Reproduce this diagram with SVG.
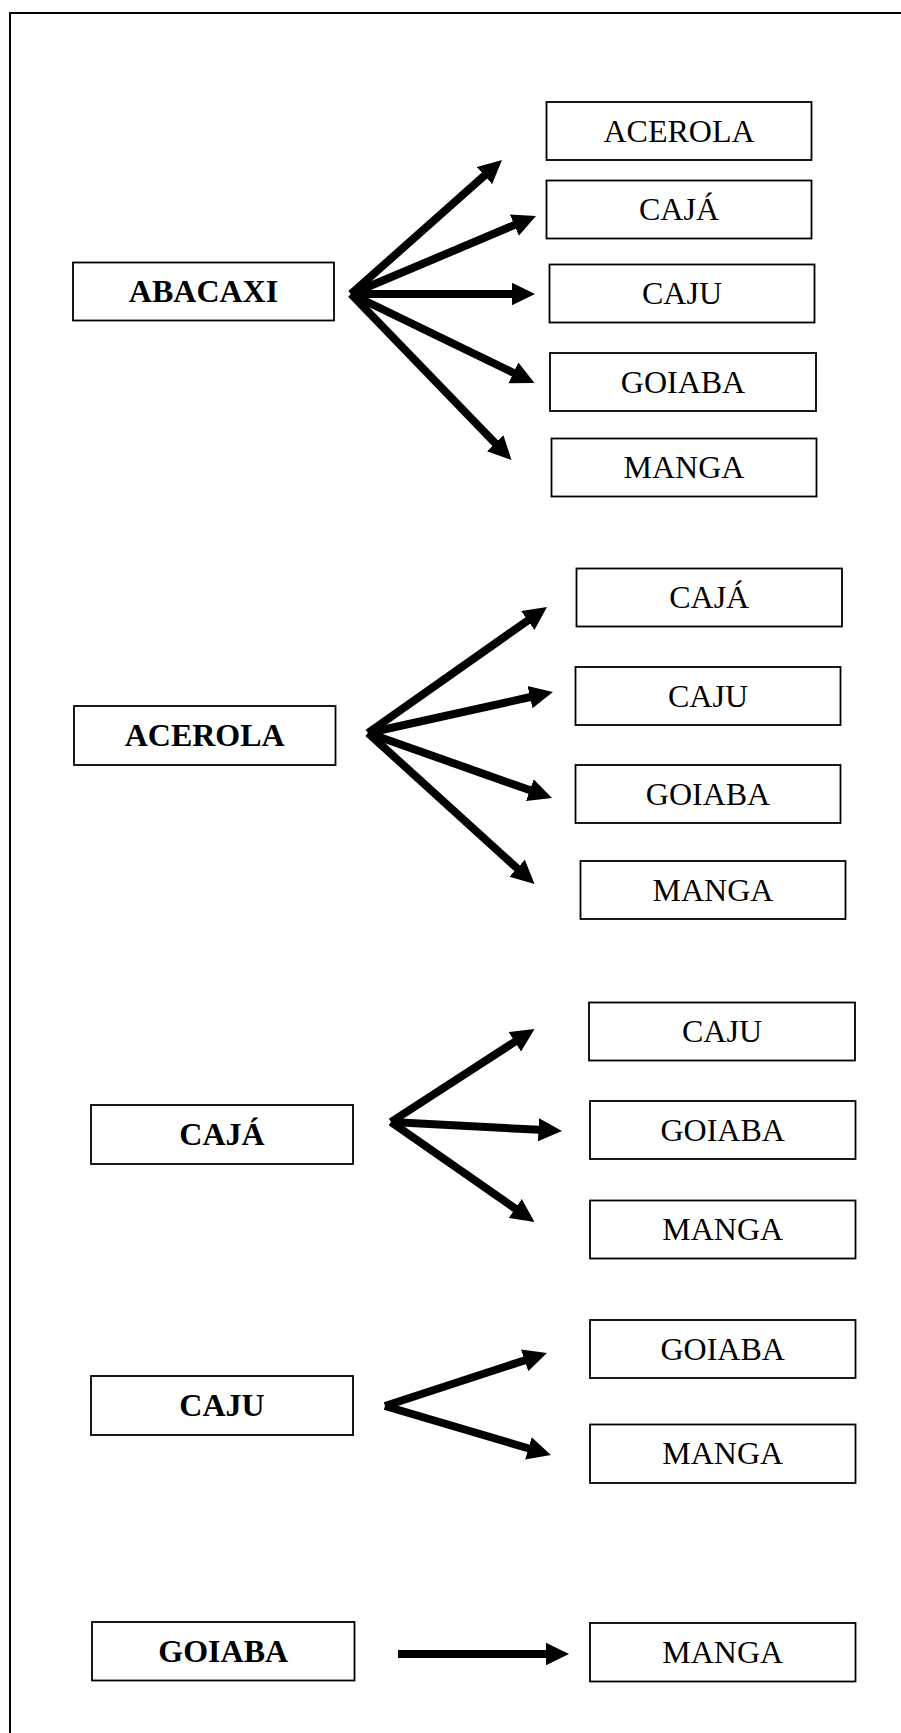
<svg xmlns="http://www.w3.org/2000/svg" width="901" height="1733" viewBox="0 0 901 1733">
<style>
.box{fill:#fff;stroke:#000;stroke-width:1.8}
.src{font-family:"Liberation Serif","Times New Roman",serif;font-weight:bold;font-size:32px;text-anchor:middle;fill:#000}
.tgt{font-family:"Liberation Serif","Times New Roman",serif;font-size:32px;text-anchor:middle;fill:#000}
.arr{stroke:#000;stroke-width:8;fill:none;stroke-linecap:butt;marker-end:url(#ah)}
</style>
<defs>
<marker id="ah" markerUnits="userSpaceOnUse" viewBox="0 0 24 24" markerWidth="24" markerHeight="24" refX="0.5" refY="12" orient="auto">
<path d="M0,0.5 L23.5,12 L0,23.5 Z" fill="#000"/>
</marker>
</defs>
<rect width="901" height="1733" fill="#fff"/>
<path d="M10,1733 L10,13 L901,13" fill="none" stroke="#000" stroke-width="2"/>

<g id="n-abacaxi"><rect class="box" x="73" y="262.5" width="261" height="58"/><text class="src" x="203.5" y="302.2">ABACAXI</text></g>
<g id="n-abacaxi-acerola"><rect class="box" x="546.5" y="102" width="265" height="58"/><text class="tgt" x="679" y="141.7">ACEROLA</text></g>
<g id="n-abacaxi-caja"><rect class="box" x="546.5" y="180.5" width="265" height="58"/><text class="tgt" x="679" y="220.2">CAJÁ</text></g>
<g id="n-abacaxi-caju"><rect class="box" x="549.5" y="264.5" width="265" height="58"/><text class="tgt" x="682" y="304.2">CAJU</text></g>
<g id="n-abacaxi-goiaba"><rect class="box" x="550" y="353" width="266" height="58"/><text class="tgt" x="683" y="392.7">GOIABA</text></g>
<g id="n-abacaxi-manga"><rect class="box" x="551.5" y="438.5" width="265" height="58"/><text class="tgt" x="684" y="478.2">MANGA</text></g>

<g id="n-acerola"><rect class="box" x="74" y="706" width="261.5" height="59"/><text class="src" x="204.7" y="746.2">ACEROLA</text></g>
<g id="n-acerola-caja"><rect class="box" x="576.5" y="568.5" width="265.5" height="58"/><text class="tgt" x="709.2" y="608.2">CAJÁ</text></g>
<g id="n-acerola-caju"><rect class="box" x="575.5" y="667" width="265" height="58"/><text class="tgt" x="708" y="706.7">CAJU</text></g>
<g id="n-acerola-goiaba"><rect class="box" x="575.5" y="765" width="265" height="58"/><text class="tgt" x="708" y="804.7">GOIABA</text></g>
<g id="n-acerola-manga"><rect class="box" x="580.5" y="861" width="265" height="58"/><text class="tgt" x="713" y="900.7">MANGA</text></g>

<g id="n-caja"><rect class="box" x="91" y="1105" width="262" height="59"/><text class="src" x="222" y="1145.2">CAJÁ</text></g>
<g id="n-caja-caju"><rect class="box" x="589" y="1002.5" width="266" height="58"/><text class="tgt" x="722" y="1042.2">CAJU</text></g>
<g id="n-caja-goiaba"><rect class="box" x="590" y="1101" width="265.5" height="58"/><text class="tgt" x="722.7" y="1140.7">GOIABA</text></g>
<g id="n-caja-manga"><rect class="box" x="590" y="1200.5" width="265.5" height="58"/><text class="tgt" x="722.7" y="1240.2">MANGA</text></g>

<g id="n-caju"><rect class="box" x="91" y="1376" width="262" height="59"/><text class="src" x="222" y="1416.2">CAJU</text></g>
<g id="n-caju-goiaba"><rect class="box" x="590" y="1320" width="265.5" height="58"/><text class="tgt" x="722.7" y="1359.7">GOIABA</text></g>
<g id="n-caju-manga"><rect class="box" x="590" y="1424.5" width="265.5" height="58.5"/><text class="tgt" x="722.7" y="1464.4">MANGA</text></g>

<g id="n-goiaba"><rect class="box" x="92" y="1622" width="262.5" height="58.5"/><text class="src" x="223.2" y="1661.9">GOIABA</text></g>
<g id="n-goiaba-manga"><rect class="box" x="590" y="1623" width="265.5" height="58.5"/><text class="tgt" x="722.7" y="1662.9">MANGA</text></g>

<g id="connectors">
<line class="arr" x1="351" y1="294" x2="484.8" y2="175.3"/>
<line class="arr" x1="351" y1="294" x2="514.8" y2="224.9"/>
<line class="arr" x1="351" y1="294" x2="512" y2="294"/>
<line class="arr" x1="351" y1="294" x2="513.8" y2="373"/>
<line class="arr" x1="351" y1="294" x2="495.5" y2="443.5"/>

<line class="arr" x1="368" y1="733" x2="528.2" y2="620.2"/>
<line class="arr" x1="368" y1="733" x2="530.5" y2="697"/>
<line class="arr" x1="368" y1="733" x2="530.3" y2="790.3"/>
<line class="arr" x1="368" y1="733" x2="517.5" y2="868.6"/>

<line class="arr" x1="391" y1="1122" x2="515.2" y2="1041.5"/>
<line class="arr" x1="391" y1="1122" x2="539" y2="1129.8"/>
<line class="arr" x1="391" y1="1122" x2="515.6" y2="1208.8"/>

<line class="arr" x1="385" y1="1406" x2="525.1" y2="1360.2"/>
<line class="arr" x1="385" y1="1406" x2="528.9" y2="1448.5"/>

<line class="arr" x1="398" y1="1654" x2="546" y2="1654"/>
</g>
</svg>
